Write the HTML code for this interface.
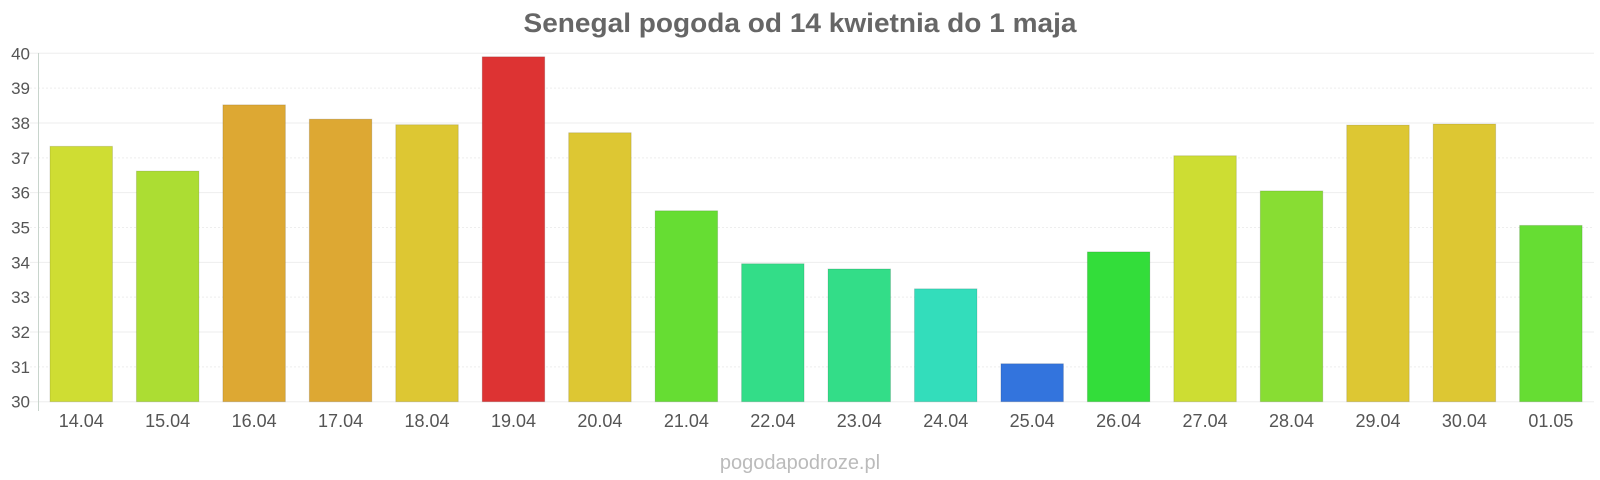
<!DOCTYPE html>
<html><head><meta charset="utf-8"><style>
body{margin:0;background:#fff;}
svg{display:block;font-family:"Liberation Sans",Arial,sans-serif;}
</style></head><body>
<svg width="1600" height="480" viewBox="0 0 1600 480" xmlns="http://www.w3.org/2000/svg">
<text x="800" y="32" text-anchor="middle" font-size="27" font-weight="bold" fill="#666" textLength="553" lengthAdjust="spacingAndGlyphs">Senegal pogoda od 14 kwietnia do 1 maja</text>
<g id="grid"></g>
<g id="bars"></g>
<line x1="38.5" y1="53" x2="38.5" y2="411" stroke="#c8d4cc" stroke-width="1"/>
<text x="800" y="469" text-anchor="middle" font-size="20" fill="#bbb">pogodapodroze.pl</text>
<script>
var ns="http://www.w3.org/2000/svg";
var g=document.getElementById("grid"),b=document.getElementById("bars");
var y0=401.7,k=34.84,x0=38,slot=86.45,w=62.5;
for(var i=0;i<=10;i++){var y=y0-i*k;
var l=document.createElementNS(ns,"line");l.setAttribute("x1",30);l.setAttribute("x2",1594);l.setAttribute("y1",y);l.setAttribute("y2",y);l.setAttribute("stroke","#eee");l.setAttribute("stroke-dasharray",i%2?"2,2":"none");g.appendChild(l);
var t=document.createElementNS(ns,"text");t.setAttribute("x",30);t.setAttribute("y",y+6);t.setAttribute("text-anchor","end");t.setAttribute("font-size","17");t.setAttribute("fill","#555");t.textContent=30+i;g.appendChild(t);}
var d=[["14.04",37.33,"#cfdd33"],["15.04",36.62,"#acdd33"],["16.04",38.52,"#dda833"],["17.04",38.11,"#dda833"],["18.04",37.95,"#ddc733"],["19.04",39.9,"#dd3333"],["20.04",37.72,"#ddc733"],["21.04",35.48,"#66dd33"],["22.04",33.96,"#33dd88"],["23.04",33.81,"#33dd88"],["24.04",33.24,"#33ddbb"],["25.04",31.09,"#3374dd"],["26.04",34.3,"#33dd3a"],["27.04",37.06,"#cddd33"],["28.04",36.05,"#88dd33"],["29.04",37.94,"#ddc733"],["30.04",37.97,"#ddc733"],["01.05",35.06,"#66dd33"]];
d.forEach(function(e,i){var cx=x0+slot*(i+0.5),top=y0-(e[1]-30)*k;
var r=document.createElementNS(ns,"rect");r.setAttribute("x",cx-w/2);r.setAttribute("y",top);r.setAttribute("width",w);r.setAttribute("height",y0-top);r.setAttribute("fill",e[2]);r.setAttribute("stroke","rgba(0,0,0,0.12)");r.setAttribute("stroke-width","1");b.appendChild(r);
var t=document.createElementNS(ns,"text");t.setAttribute("x",cx);t.setAttribute("y",427);t.setAttribute("text-anchor","middle");t.setAttribute("font-size","18");t.setAttribute("fill","#555");t.textContent=e[0];b.appendChild(t);});
</script>
</svg>
</body></html>
